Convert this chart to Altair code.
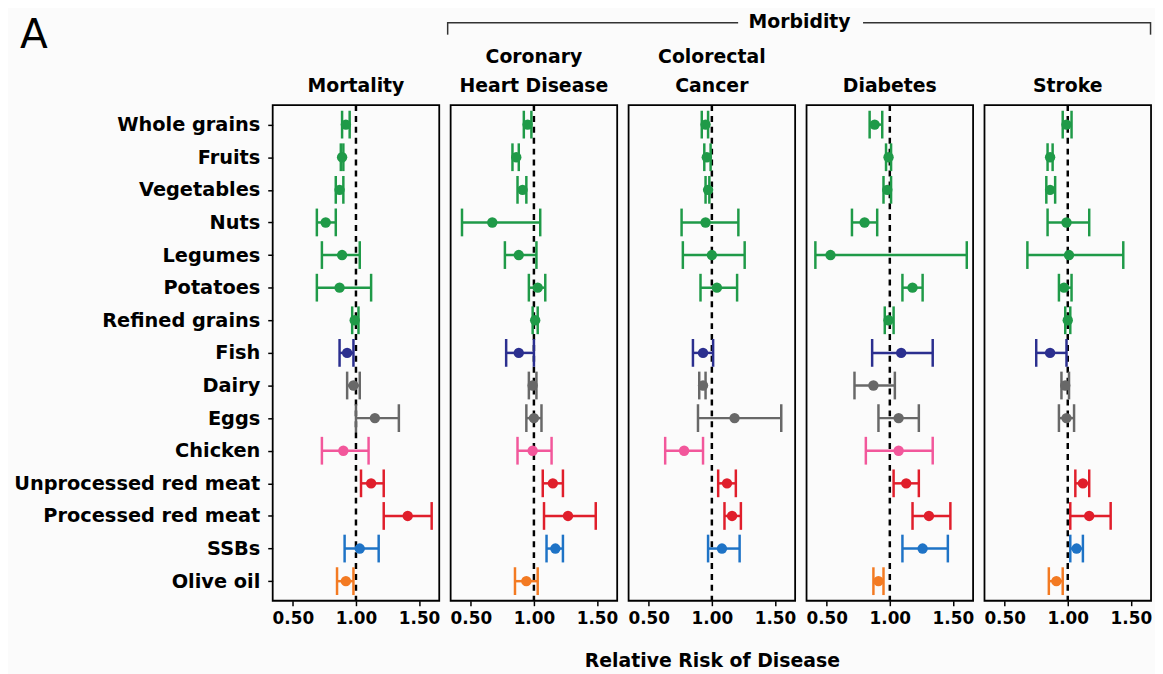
import altair as alt
import pandas as pd

FONT = "DejaVu Sans"

foods = ["Whole grains", "Fruits", "Vegetables", "Nuts", "Legumes", "Potatoes",
         "Refined grains", "Fish", "Dairy", "Eggs", "Chicken",
         "Unprocessed red meat", "Processed red meat", "SSBs", "Olive oil"]
groups = ["plant"] * 7 + ["fish", "dairy", "dairy", "chicken", "meat", "meat", "ssb", "oil"]
group_names = ["plant", "fish", "dairy", "chicken", "meat", "ssb", "oil"]
group_colors = ["#1f9a48", "#2b2f8f", "#686868", "#f2579b", "#e01e2b", "#1e73c6", "#f37a22"]

# Mortality
mort_rr = [0.92, 0.89, 0.87, 0.76, 0.89, 0.87, 0.99, 0.93, 0.98, 1.15, 0.90, 1.12, 1.41, 1.03, 0.92]
mort_lo = [0.89, 0.88, 0.84, 0.69, 0.73, 0.69, 0.97, 0.87, 0.93, 1.00, 0.73, 1.04, 1.22, 0.91, 0.85]
mort_hi = [0.95, 0.90, 0.90, 0.84, 1.03, 1.12, 1.02, 0.98, 1.03, 1.34, 1.10, 1.22, 1.60, 1.18, 0.98]
# Coronary heart disease
chd_rr = [0.95, 0.86, 0.91, 0.67, 0.88, 1.03, 1.01, 0.88, 0.99, 1.00, 0.99, 1.15, 1.27, 1.17, 0.94]
chd_lo = [0.92, 0.83, 0.87, 0.43, 0.77, 0.96, 0.99, 0.78, 0.96, 0.94, 0.87, 1.07, 1.08, 1.10, 0.85]
chd_hi = [0.98, 0.88, 0.94, 1.05, 1.02, 1.09, 1.03, 1.00, 1.02, 1.06, 1.14, 1.23, 1.49, 1.23, 1.03]
# Colorectal cancer
crc_rr = [0.95, 0.96, 0.97, 0.95, 1.00, 1.04, None, 0.93, 0.93, 1.18, 0.78, 1.12, 1.16, 1.08, None]
crc_lo = [0.92, 0.94, 0.95, 0.76, 0.77, 0.91, None, 0.85, 0.90, 0.89, 0.63, 1.05, 1.10, 0.97, None]
crc_hi = [0.97, 0.99, 0.98, 1.21, 1.26, 1.20, None, 1.01, 0.95, 1.55, 0.93, 1.19, 1.23, 1.22, None]
# Diabetes
dia_rr = [0.88, 0.99, 0.98, 0.80, 0.53, 1.18, 0.99, 1.09, 0.87, 1.07, 1.07, 1.13, 1.31, 1.26, 0.91]
dia_lo = [0.84, 0.97, 0.95, 0.70, 0.41, 1.10, 0.96, 0.86, 0.72, 0.91, 0.81, 1.03, 1.18, 1.10, 0.87]
dia_hi = [0.94, 1.01, 1.01, 0.90, 1.61, 1.26, 1.03, 1.34, 1.04, 1.23, 1.34, 1.23, 1.48, 1.46, 0.95]
# Stroke
str_rr = [0.99, 0.86, 0.86, 0.99, 1.01, 0.97, 1.00, 0.86, 0.98, 0.99, None, 1.12, 1.17, 1.07, 0.91]
str_lo = [0.96, 0.84, 0.83, 0.84, 0.68, 0.93, 0.98, 0.75, 0.95, 0.93, None, 1.06, 1.02, 1.02, 0.85]
str_hi = [1.03, 0.88, 0.90, 1.17, 1.44, 1.03, 1.02, 0.99, 1.01, 1.05, None, 1.17, 1.34, 1.12, 0.96]

panel_titles = [["Mortality"], ["Coronary", "Heart Disease"], ["Colorectal", "Cancer"],
                ["Diabetes"], ["Stroke"]]
x_ticks = [0.5, 1.0, 1.5]
x_title = "Relative Risk of Disease"

W, H = 168, 500
LINE_H = 29


def title_marks(lines):
    out = []
    n = len(lines)
    for i, line in enumerate(lines):
        out.append(alt.Chart(pd.DataFrame({"t": [line]})).mark_text(
            font=FONT, fontSize=19, fontWeight="bold", align="center", baseline="bottom",
            color="black"
        ).encode(x=alt.value(W / 2), y=alt.value(-9 - LINE_H * (n - 1 - i)), text="t:N"))
    return out


def panel(title, rr, lo, hi, first=False, show_xtitle=False, extra=None):
    df = pd.DataFrame({"food": foods, "grp": groups, "rr": rr, "lo": lo, "hi": hi}).dropna()
    xscale = alt.Scale(domain=[0.34, 1.66], nice=False, zero=False)
    xaxis = alt.Axis(values=x_ticks, format=".2f", title=x_title if show_xtitle else "",
                     grid=False, domain=False, tickSize=5, tickWidth=1.5, tickColor="black",
                     labelFontSize=17, labelPadding=5, titlePadding=25, titleFontSize=19)
    if first:
        yaxis = alt.Axis(title=None, grid=False, domain=False, tickSize=5, tickWidth=1.5,
                         tickColor="black", labelFontSize=19.5, labelPadding=8, labelLimit=500)
    else:
        yaxis = None
    y = alt.Y("food:N", scale=alt.Scale(type="point", domain=foods, padding=0.6), axis=yaxis)
    color = alt.Color("grp:N", scale=alt.Scale(domain=group_names, range=group_colors), legend=None)

    def X(field):
        return alt.X(field, type="quantitative", scale=xscale, axis=xaxis)

    base = alt.Chart(df)
    ref = alt.Chart(pd.DataFrame({"v": [1.0]})).mark_rule(
        color="black", strokeDash=[6, 5], strokeWidth=2.5).encode(x=X("v"))
    bar = base.mark_rule(strokeWidth=2.5).encode(x=X("lo"), x2="hi", y=y, color=color)
    cap_lo = base.mark_tick(size=28, thickness=2.5, opacity=1).encode(x=X("lo"), y=y, color=color)
    cap_hi = base.mark_tick(size=28, thickness=2.5, opacity=1).encode(x=X("hi"), y=y, color=color)
    pt = base.mark_circle(size=110, opacity=1).encode(x=X("rr"), y=y, color=color)
    layers = [ref, bar, cap_lo, cap_hi, pt] + title_marks(title)
    if extra:
        layers += extra
    return alt.layer(*layers).properties(width=W, height=H)


# annotations (panel letter and the "Morbidity" bracket)
letter = alt.Chart(pd.DataFrame({"t": ["A"]})).mark_text(
    font=FONT, fontSize=41, fontWeight="normal", align="left", baseline="alphabetic", color="black"
).encode(x=alt.value(-255), y=alt.value(-58), text="t:N")

morb_text = alt.Chart(pd.DataFrame({"t": ["Morbidity"]})).mark_text(
    font=FONT, fontSize=19, fontWeight="bold", align="center", baseline="middle", color="black"
).encode(x=alt.value(352), y=alt.value(-84), text="t:N")
br_l = alt.Chart(pd.DataFrame({"t": [0]})).mark_rule(color="#333333", strokeWidth=1.5).encode(
    x=alt.value(-3), x2=alt.value(290), y=alt.value(-83))
br_r = alt.Chart(pd.DataFrame({"t": [0]})).mark_rule(color="#333333", strokeWidth=1.5).encode(
    x=alt.value(416), x2=alt.value(706), y=alt.value(-83))
tick_l = alt.Chart(pd.DataFrame({"t": [0]})).mark_rule(color="#333333", strokeWidth=1.5).encode(
    x=alt.value(-3), y=alt.value(-83.75), y2=alt.value(-71))
tick_r = alt.Chart(pd.DataFrame({"t": [0]})).mark_rule(color="#333333", strokeWidth=1.5).encode(
    x=alt.value(706), y=alt.value(-83.75), y2=alt.value(-71))

p1 = panel(panel_titles[0], mort_rr, mort_lo, mort_hi, first=True, extra=[letter])
p2 = panel(panel_titles[1], chd_rr, chd_lo, chd_hi,
           extra=[br_l, br_r, tick_l, tick_r, morb_text])
p3 = panel(panel_titles[2], crc_rr, crc_lo, crc_hi, show_xtitle=True)
p4 = panel(panel_titles[3], dia_rr, dia_lo, dia_hi)
p5 = panel(panel_titles[4], str_rr, str_lo, str_hi)

chart = alt.hconcat(p1, p2, p3, p4, p5, spacing=11.5, bounds="flush").properties(
    padding={"left": 4, "top": 1, "right": 2, "bottom": 0},
    background="#fbfbfb",
).configure_view(
    stroke="black", strokeWidth=1.8, fill=None
).configure_axis(
    labelFont=FONT, labelFontWeight="bold", labelColor="black",
    titleFont=FONT, titleFontWeight="bold", titleColor="black"
)

chart.save("out.html", embed_options={"renderer": "svg", "actions": False})
